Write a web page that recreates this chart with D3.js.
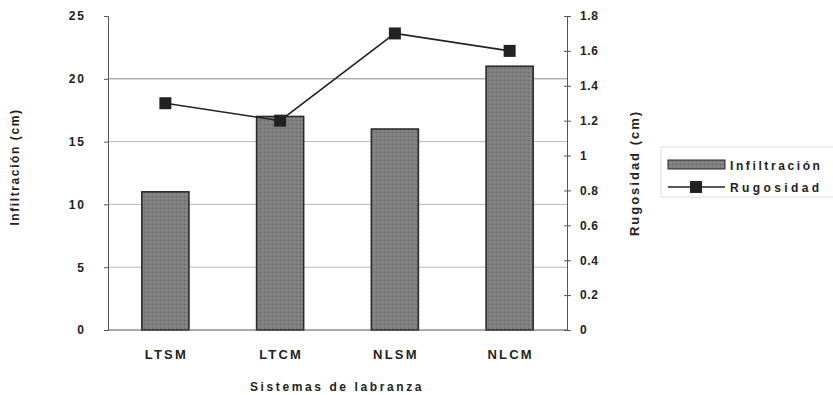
<!DOCTYPE html>
<html>
<head>
<meta charset="utf-8">
<script src="https://cdn.jsdelivr.net/npm/d3@7"></script>
<style>
  html, body { margin: 0; padding: 0; background: #fff; }
  text { font-family: "Liberation Sans", Arial, sans-serif; font-weight: bold; fill: #222; }
</style>
</head>
<body>
<svg id="chart" width="833" height="395"></svg>
<script>
// Tillage systems and their measurements
const categories = ["LTSM", "LTCM", "NLSM", "NLCM"];
const infiltracion = [11, 17, 16, 21];
const rugosidad = [1.3, 1.2, 1.7, 1.6];
const leftTicks = [0, 5, 10, 15, 20, 25];
const rightTicks = [0, 0.2, 0.4, 0.6, 0.8, 1, 1.2, 1.4, 1.6, 1.8];

const svg = d3.select("#chart");
const m = { left: 108, right: 567, top: 16, bottom: 330 };

const x = d3.scaleBand().domain(categories).range([m.left, m.right]).paddingInner(0.59).paddingOuter(0.295);
const yL = d3.scaleLinear().domain([0, 25]).range([m.bottom, m.top]);
const yR = d3.scaleLinear().domain([0, 1.8]).range([m.bottom, m.top]);

// horizontal gridlines
svg.append("g").selectAll("line").data(leftTicks.filter(d => d > 0 && d < 25)).join("line")
  .attr("x1", m.left).attr("x2", m.right)
  .attr("y1", d => yL(d)).attr("y2", d => yL(d))
  .attr("stroke", d => d === 20 ? "#888" : "#b8b8b8").attr("stroke-width", 1);

// bars with a fine grain fill
const defs = svg.append("defs");
const pat = defs.append("pattern").attr("id", "grain").attr("width", 4).attr("height", 4)
  .attr("patternUnits", "userSpaceOnUse");
pat.append("rect").attr("width", 4).attr("height", 4).attr("fill", "#7f7f7f");
pat.append("rect").attr("x", 0).attr("y", 0).attr("width", 1).attr("height", 1).attr("fill", "#656565");
pat.append("rect").attr("x", 2).attr("y", 2).attr("width", 1).attr("height", 1).attr("fill", "#989898");

svg.append("g").selectAll("rect").data(categories).join("rect")
  .attr("x", d => x(d)).attr("width", x.bandwidth())
  .attr("y", (d, i) => yL(infiltracion[i]))
  .attr("height", (d, i) => yL(0) - yL(infiltracion[i]))
  .attr("fill", "url(#grain)").attr("stroke", "#2a2a2a").attr("stroke-width", 1.6);

// left axis
const axL = svg.append("g").attr("transform", `translate(${m.left},0)`)
  .call(d3.axisLeft(yL).tickValues(leftTicks).tickSize(4).tickPadding(18).tickFormat(d3.format("d")));
axL.select(".domain").attr("stroke", "#555");
axL.selectAll(".tick line").attr("stroke", "#555");
axL.selectAll("text").style("font-size", "12px").style("letter-spacing", "2px").attr("fill", "#222");

// right axis
const axR = svg.append("g").attr("transform", `translate(${m.right},0)`)
  .call(d3.axisRight(yR).tickValues(rightTicks).tickSize(4).tickPadding(9).tickFormat(d => d === 0 || d === 1 ? d3.format("d")(d) : d3.format(".1f")(d)));
axR.select(".domain").attr("stroke", "#555");
axR.selectAll(".tick line").attr("stroke", "#555").attr("x1", -3);
axR.selectAll("text").style("font-size", "12px").style("letter-spacing", "0.6px").attr("fill", "#222");

// bottom baseline and category labels
svg.append("line").attr("x1", m.left).attr("x2", m.right).attr("y1", m.bottom).attr("y2", m.bottom)
  .attr("stroke", "#555");
svg.append("g").selectAll("text").data(categories).join("text")
  .attr("x", d => x(d) + x.bandwidth() / 2 + 1).attr("y", 359)
  .attr("text-anchor", "middle").style("font-size", "13px").style("letter-spacing", "2.2px")
  .text(d => d);

// line series
const line = d3.line().x((d, i) => x(categories[i]) + x.bandwidth() / 2).y(d => yR(d));
svg.append("path").datum(rugosidad).attr("d", line)
  .attr("fill", "none").attr("stroke", "#222").attr("stroke-width", 1.6);
svg.append("g").selectAll("rect").data(rugosidad).join("rect")
  .attr("x", (d, i) => x(categories[i]) + x.bandwidth() / 2 - 6)
  .attr("y", d => yR(d) - 6).attr("width", 12).attr("height", 12)
  .attr("fill", "#222");

// axis titles
svg.append("text").attr("transform", "translate(19,167) rotate(-90)")
  .attr("text-anchor", "middle").style("font-size", "12px").style("letter-spacing", "1.6px")
  .text("Infiltración (cm)");
svg.append("text").attr("transform", "translate(639,173) rotate(-90)")
  .attr("text-anchor", "middle").style("font-size", "13px").style("letter-spacing", "2px")
  .text("Rugosidad (cm)");
svg.append("text").attr("x", 337).attr("y", 391)
  .attr("text-anchor", "middle").style("font-size", "12px").style("letter-spacing", "2.6px")
  .text("Sistemas de labranza");

// legend
const lg = svg.append("g");
lg.append("rect").attr("x", 661).attr("y", 147).attr("width", 180).attr("height", 50)
  .attr("fill", "#fff").attr("stroke", "#ddd");
lg.append("rect").attr("x", 668).attr("y", 160).attr("width", 57).attr("height", 9)
  .attr("fill", "url(#grain)").attr("stroke", "#2a2a2a");
lg.append("text").attr("x", 730).attr("y", 170).style("font-size", "12px").style("letter-spacing", "2.6px")
  .text("Infiltración");
lg.append("line").attr("x1", 668).attr("x2", 725).attr("y1", 187).attr("y2", 187)
  .attr("stroke", "#222").attr("stroke-width", 1.6);
lg.append("rect").attr("x", 690).attr("y", 181).attr("width", 12).attr("height", 12).attr("fill", "#222");
lg.append("text").attr("x", 730).attr("y", 192).style("font-size", "12px").style("letter-spacing", "3.4px")
  .text("Rugosidad");
</script>
</body>
</html>
